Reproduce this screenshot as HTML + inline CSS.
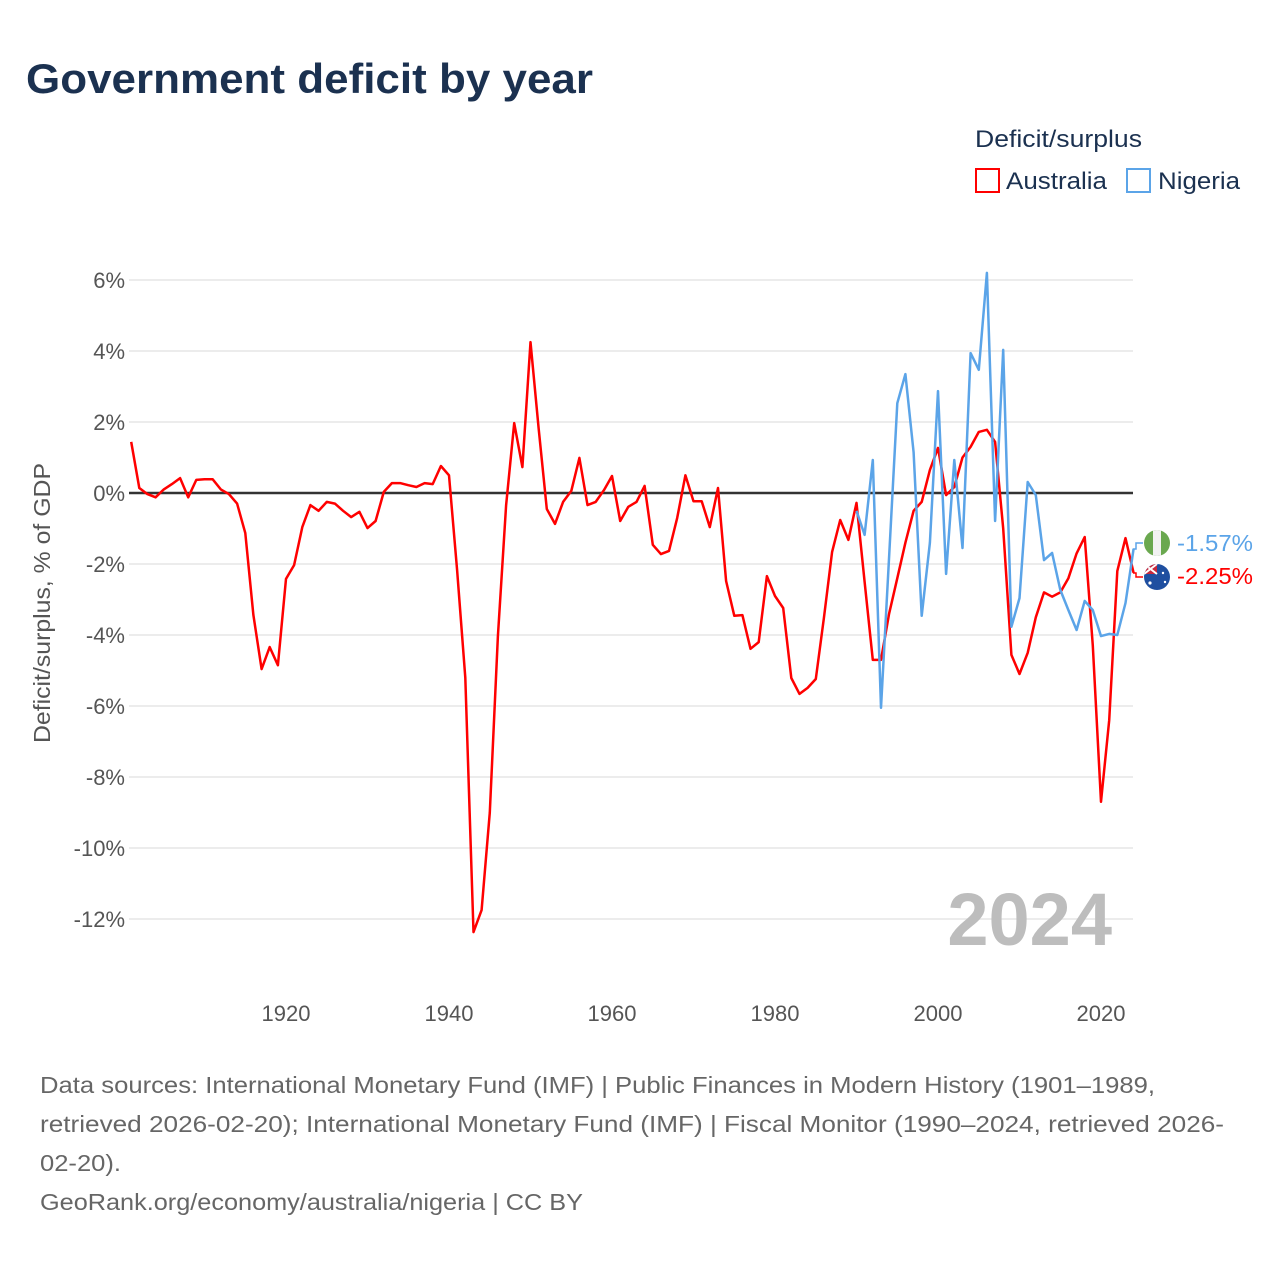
<!DOCTYPE html>
<html><head><meta charset="utf-8">
<style>
html,body{margin:0;padding:0;background:#fff;}
body{width:1280px;height:1280px;position:relative;font-family:"Liberation Sans",sans-serif;overflow:hidden;}
svg text{font-family:"Liberation Sans",sans-serif;}
</style></head>
<body>
<svg id="chart" width="1280" height="1280" viewBox="0 0 1280 1280" xmlns="http://www.w3.org/2000/svg">
<text x="26" y="93" font-size="42" font-weight="bold" fill="#1b3150" textLength="567" lengthAdjust="spacingAndGlyphs">Government deficit by year</text>
<g>
<text x="975" y="147" font-size="24" fill="#1b3150" textLength="167" lengthAdjust="spacingAndGlyphs">Deficit/surplus</text>
<rect x="976" y="169" width="23" height="23" fill="none" stroke="#ff0000" stroke-width="2"/>
<text x="1006" y="189" font-size="24" fill="#1b3150" textLength="101" lengthAdjust="spacingAndGlyphs">Australia</text>
<rect x="1127" y="169" width="23" height="23" fill="none" stroke="#5ba4e8" stroke-width="2"/>
<text x="1158" y="189" font-size="24" fill="#1b3150" textLength="82" lengthAdjust="spacingAndGlyphs">Nigeria</text>
</g>
<g id="grid"></g>
<g id="xaxis"></g>
<text transform="translate(50,603) rotate(-90)" text-anchor="middle" font-size="23" fill="#555" textLength="280" lengthAdjust="spacingAndGlyphs">Deficit/surplus, % of GDP</text>
<text x="1112" y="945" text-anchor="end" font-size="74" font-weight="bold" fill="#bdbdbd">2024</text>
<g id="series"></g>
<g>
<polyline points="1133,549 1136,549 1136,543 1143,543" fill="none" stroke="#5ba4e8" stroke-width="1.5"/>
<polyline points="1133,573 1136,573 1136,577 1143,577" fill="none" stroke="#ff0000" stroke-width="1.5"/>
<g>
<clipPath id="cn"><circle cx="1157" cy="543" r="13"/></clipPath>
<g clip-path="url(#cn)"><rect x="1144" y="530" width="26" height="26" fill="#6aa84f"/><rect x="1153" y="530" width="8" height="26" fill="#f2f2f2"/></g>
</g>
<g>
<clipPath id="ca"><circle cx="1157" cy="577" r="13"/></clipPath>
<g clip-path="url(#ca)"><rect x="1144" y="564" width="26" height="26" fill="#1f4fa0"/><rect x="1144" y="564" width="13" height="10" fill="#c8283c"/><path d="M1144 564 L1157 574 M1157 564 L1144 574" stroke="#fff" stroke-width="2"/><circle cx="1150" cy="583" r="1.6" fill="#fff"/><circle cx="1163" cy="573" r="1.2" fill="#fff"/><circle cx="1165" cy="582" r="1.2" fill="#fff"/></g>
</g>
<text x="1177" y="551" font-size="23" fill="#5ba4e8" textLength="76" lengthAdjust="spacingAndGlyphs">-1.57%</text>
<text x="1177" y="584" font-size="23" fill="#ff0000" textLength="76" lengthAdjust="spacingAndGlyphs">-2.25%</text>
</g>
<g font-size="23" fill="#666">
<text x="40" y="1093" textLength="1115" lengthAdjust="spacingAndGlyphs">Data sources: International Monetary Fund (IMF) | Public Finances in Modern History (1901–1989,</text>
<text x="40" y="1132" textLength="1184" lengthAdjust="spacingAndGlyphs">retrieved 2026-02-20); International Monetary Fund (IMF) | Fiscal Monitor (1990–2024, retrieved 2026-</text>
<text x="40" y="1171" textLength="81" lengthAdjust="spacingAndGlyphs">02-20).</text>
<text x="40" y="1210" textLength="543" lengthAdjust="spacingAndGlyphs">GeoRank.org/economy/australia/nigeria | CC BY</text>
</g>
</svg>
<script>
const yTicks = [6,4,2,0,-2,-4,-6,-8,-10,-12];
const xTicks = [1920,1940,1960,1980,2000,2020];
const ausStart = 1901;
const ausValues = [1.44,0.14,-0.03,-0.12,0.1,0.25,0.42,-0.12,0.37,0.39,0.39,0.1,-0.03,-0.3,-1.13,-3.44,-4.96,-4.34,-4.85,-2.42,-2.03,-0.96,-0.34,-0.5,-0.25,-0.3,-0.5,-0.68,-0.53,-0.99,-0.79,0.03,0.28,0.28,0.22,0.17,0.28,0.25,0.76,0.5,-2.17,-5.2,-12.37,-11.75,-9,-4.03,-0.35,1.97,0.73,4.25,1.83,-0.45,-0.87,-0.25,0.06,0.99,-0.34,-0.25,0.08,0.48,-0.79,-0.39,-0.25,0.2,-1.46,-1.72,-1.63,-0.7,0.5,-0.23,-0.23,-0.96,0.14,-2.48,-3.46,-3.44,-4.39,-4.2,-2.34,-2.9,-3.24,-5.21,-5.66,-5.49,-5.24,-3.52,-1.66,-0.76,-1.32,-0.28,-2.5,-4.7,-4.7,-3.4,-2.4,-1.4,-0.5,-0.25,0.65,1.27,-0.06,0.17,1.0,1.3,1.72,1.78,1.44,-1.0,-4.56,-5.1,-4.5,-3.5,-2.8,-2.92,-2.8,-2.4,-1.7,-1.24,-4.3,-8.7,-6.4,-2.2,-1.27,-2.25];
const ngaStart = 1990;
const ngaValues = [-0.5,-1.18,0.93,-6.05,-1.8,2.53,3.35,1.15,-3.46,-1.4,2.87,-2.28,0.93,-1.55,3.94,3.47,6.2,-0.79,4.03,-3.77,-2.96,0.31,-0.06,-1.89,-1.69,-2.73,-3.3,-3.86,-3.04,-3.3,-4.03,-3.97,-4.0,-3.1,-1.57];

const NS='http://www.w3.org/2000/svg';
const X0=129, X1=1133, Y0=493, PPU=35.5;
function xs(yr){return 286 + (yr-1920)*8.15;}
function ys(v){return Y0 - v*PPU;}
const grid=document.getElementById('grid');
let zeroLine=null;
yTicks.forEach(t=>{
  const l=document.createElementNS(NS,'line');
  
  
  l.setAttribute('x1',X0);l.setAttribute('x2',X1);
  l.setAttribute('y1',ys(t));l.setAttribute('y2',ys(t));
  l.setAttribute('stroke',t===0?'#333':'#e6e6e6');
  l.setAttribute('stroke-width',t===0?2.5:1.5);
  const tx=document.createElementNS(NS,'text');
  
  
  tx.setAttribute('x',125);tx.setAttribute('y',ys(t)+8);
  tx.setAttribute('text-anchor','end');tx.setAttribute('font-size','22');tx.setAttribute('fill','#555');
  tx.textContent=t+'%';
  grid.appendChild(tx);
  if(t!==0) grid.insertBefore(l,grid.firstChild); else zeroLine=l;
});
const xa=document.getElementById('xaxis');
xTicks.forEach(t=>{
  const tx=document.createElementNS(NS,'text');
  
  
  tx.setAttribute('x',xs(t));tx.setAttribute('y',1021);
  tx.setAttribute('text-anchor','middle');tx.setAttribute('font-size','22');tx.setAttribute('fill','#555');
  tx.textContent=t;
  xa.appendChild(tx);
});
const sg=document.getElementById('series');
function line(start,vals,color,name){
  const p=document.createElementNS(NS,'polyline');
  
  
  p.setAttribute('points',vals.map((v,i)=>xs(start+i).toFixed(1)+','+ys(v).toFixed(1)).join(' '));
  p.setAttribute('fill','none');p.setAttribute('stroke',color);p.setAttribute('stroke-width','2.5');
  p.setAttribute('stroke-linejoin','round');
  sg.appendChild(p);
}
sg.appendChild(zeroLine);
line(ausStart,ausValues,'#ff0000','australia-line');
line(ngaStart,ngaValues,'#5ba4e8','nigeria-line');
</script>
</body></html>
